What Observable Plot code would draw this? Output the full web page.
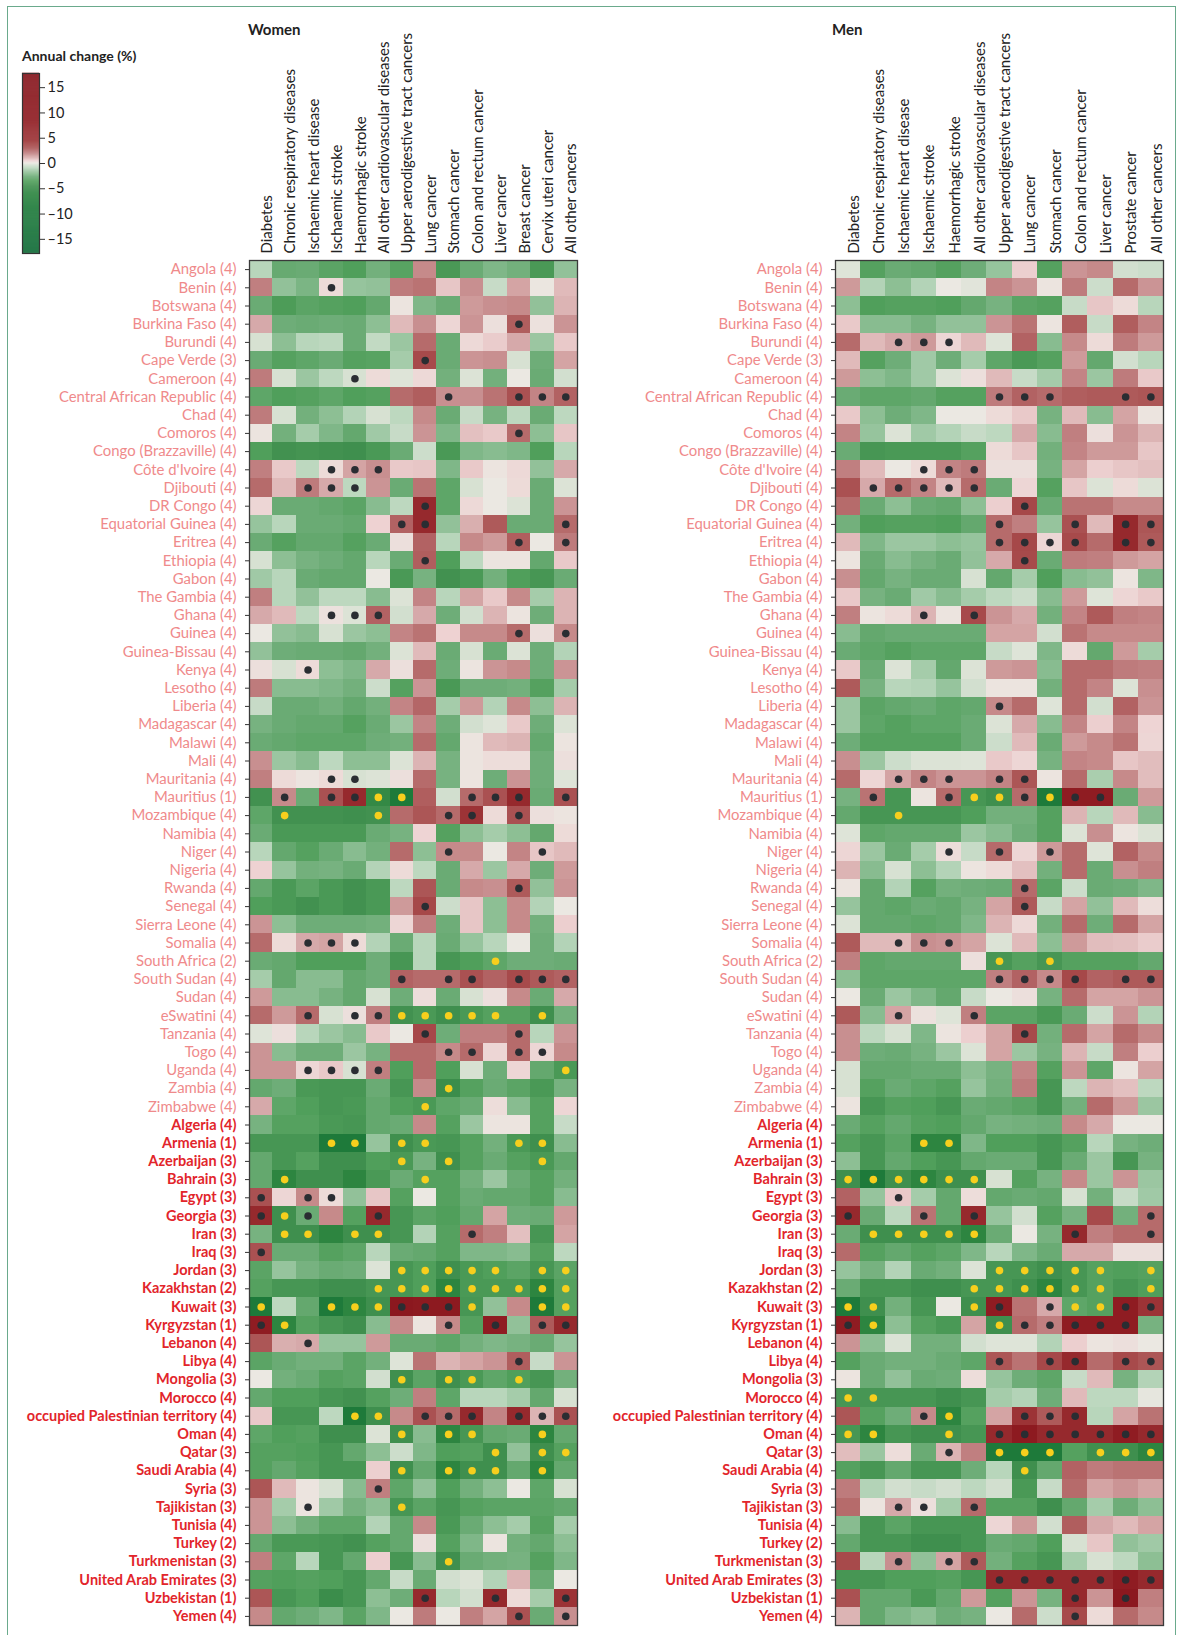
<!DOCTYPE html>
<html>
<head>
<meta charset="utf-8">
<script src="https://cdn.jsdelivr.net/npm/d3@7"></script>
<script src="https://cdn.jsdelivr.net/npm/@observablehq/plot@0.6"></script>
<style>
  html, body { margin: 0; padding: 0; background: #fff; }
  body { width: 1184px; height: 1635px; overflow: hidden; font-family: Lato, "Open Sans", sans-serif; }
  #wrap { position: relative; width: 1184px; height: 1635px; }
  #frame { position: absolute; left: 7px; top: 6px; width: 1169px; height: 1640px; border-left: 1.5px solid #6aaa8c; border-top: 1.5px solid #6aaa8c; border-right: 1.5px solid #6aaa8c; box-sizing: border-box; }
  .abs { position: absolute; }
  .ttl { font-weight: bold; font-size: 15px; line-height: 15px; color: #222; }
  .legttl { font-weight: bold; font-size: 14px; line-height: 14px; color: #222; }
</style>
</head>
<body>
<div id="wrap">
  <div id="frame"></div>
  <div class="abs legttl" style="left:22px; top:49px;">Annual change (%)</div>
  <div class="abs ttl" style="left:248px; top:22px;">Women</div>
  <div class="abs ttl" style="left:832px; top:22px;">Men</div>
  <div id="legend" class="abs" style="left:0; top:0;"></div>
  <div id="women" class="abs" style="left:0; top:0;"></div>
  <div id="men" class="abs" style="left:580px; top:0;"></div>
</div>
<script>
// ---------------- DATA ----------------
const ssaCountries = ["Angola (4)","Benin (4)","Botswana (4)","Burkina Faso (4)","Burundi (4)","Cape Verde (3)","Cameroon (4)","Central African Republic (4)","Chad (4)","Comoros (4)","Congo (Brazzaville) (4)","Côte d'Ivoire (4)","Djibouti (4)","DR Congo (4)","Equatorial Guinea (4)","Eritrea (4)","Ethiopia (4)","Gabon (4)","The Gambia (4)","Ghana (4)","Guinea (4)","Guinea-Bissau (4)","Kenya (4)","Lesotho (4)","Liberia (4)","Madagascar (4)","Malawi (4)","Mali (4)","Mauritania (4)","Mauritius (1)","Mozambique (4)","Namibia (4)","Niger (4)","Nigeria (4)","Rwanda (4)","Senegal (4)","Sierra Leone (4)","Somalia (4)","South Africa (2)","South Sudan (4)","Sudan (4)","eSwatini (4)","Tanzania (4)","Togo (4)","Uganda (4)","Zambia (4)","Zimbabwe (4)"];
const nameCountries = ["Algeria (4)","Armenia (1)","Azerbaijan (3)","Bahrain (3)","Egypt (3)","Georgia (3)","Iran (3)","Iraq (3)","Jordan (3)","Kazakhstan (2)","Kuwait (3)","Kyrgyzstan (1)","Lebanon (4)","Libya (4)","Mongolia (3)","Morocco (4)","occupied Palestinian territory (4)","Oman (4)","Qatar (3)","Saudi Arabia (4)","Syria (3)","Tajikistan (3)","Tunisia (4)","Turkey (2)","Turkmenistan (3)","United Arab Emirates (3)","Uzbekistan (1)","Yemen (4)"];
const countries = ssaCountries.concat(nameCountries);

const womenCauses = ["Diabetes","Chronic respiratory diseases","Ischaemic heart disease","Ischaemic stroke","Haemorrhagic stroke","All other cardiovascular diseases","Upper aerodigestive tract cancers","Lung cancer","Stomach cancer","Colon and rectum cancer","Liver cancer","Breast cancer","Cervix uteri cancer","All other cancers"];
const menCauses = ["Diabetes","Chronic respiratory diseases","Ischaemic heart disease","Ischaemic stroke","Haemorrhagic stroke","All other cardiovascular diseases","Upper aerodigestive tract cancers","Lung cancer","Stomach cancer","Colon and rectum cancer","Liver cancer","Prostate cancer","All other cancers"];

const legendTicks = [-15, -10, -5, 0, 5, 10, 15];

// annual change (%), one row per country, one value per cause
const womenValues = [
[-1,-2.8,-2.7,-3.2,-3.6,-2.5,-3.3,1.8,-4,-2.7,-2.2,-2.5,-4,-1.8],
[2,-1.8,-2.3,0.3,-1.7,-1.8,2.1,2.3,0.7,1.7,-0.7,1.3,0.05,0.9],
[-2.7,-3.8,-3.2,-3.4,-3.6,-2.9,0.1,-2.2,-2.7,1.5,1.7,1.8,-1.8,1.0],
[1.2,-2.6,-2.7,-2.6,-2.7,-1.9,0.9,1.7,0.4,1.6,0.2,2.8,0.15,1.6],
[-0.4,-1.9,-1,-0.9,-2.7,-0.8,-1.6,2.5,-2.7,0.35,0.6,1.2,-1.6,0.65],
[-2.7,-3.4,-3.1,-2.7,-3.4,-3.3,-1.4,3.5,-2.7,1.6,1.7,-0.4,-2.6,1.3],
[2.1,-0.4,-1.6,-0.9,-0.4,0.3,-0.25,0.35,-2.5,-0.3,-2.5,0,-2.7,-0.5],
[-3.1,-3.6,-3.4,-3.1,-3.6,-3.4,2.5,2.8,1.7,1.7,2.3,3.2,1.9,2.7],
[2.1,-0.4,-2.5,-1.9,-1.1,-0.4,-0.9,1.8,-2.7,-0.7,-2.4,-0.9,-2.7,-0.9],
[0.1,-2.5,-1.4,-2.2,-2.9,-1.5,-0.7,1.6,-2.2,0.8,0.65,2.5,-1.9,0.7],
[-3.6,-4.5,-4.3,-4.5,-4.7,-4,-2.7,-0.6,-4,-2.2,-2,-2.2,-3.6,-1],
[2,0.65,-0.9,0.3,1.3,1.7,0.65,0.7,-2.2,0.65,0.1,0.35,-1.8,1.2],
[2.5,0.9,2.1,1.2,-0.9,1.6,-2.7,2.3,-3.1,-0.4,0,0.3,-2.7,-0.3],
[0.4,-2.7,-2.7,-2.9,-3.2,-2,-0.9,6,-3.1,0.35,0,-0.3,-2.7,1.6],
[-1.7,-1,-2.7,-2.7,-2.9,0.5,2.7,6,-1.8,1.1,2.9,-2.7,-2.7,2.5],
[-2.7,-3.4,-2.9,-2.9,-3.4,-2.7,0.2,2.7,-1,1.8,1.5,2.8,0,2.1],
[-0.4,-1.9,-2.4,-2.6,-2.9,-1,-2.7,2.8,-3.6,-0.9,0.1,0.1,-2.9,0.65],
[-1.5,-1,-2.7,-2.9,-2.9,0,-4,-2.4,-4.5,-4,-2.5,-3.6,-4.2,-2.7],
[2,-1,-1.8,-0.9,-0.9,-2,-0.3,1.9,-1,1.3,0.65,1.8,-1.4,1],
[1.2,0.9,-0.9,0.15,-0.3,2.7,-0.5,1.2,-2.6,-0.5,1,0.1,-2.6,1],
[0,-1.8,-2,-0.4,-1.6,-1.9,1.9,2.3,0.5,1.8,1.8,2.5,0.2,1.8],
[-1.8,-2.6,-2.7,-2.7,-2.9,-2.5,-0.3,0.9,-2.7,-0.4,-2.7,-0.3,-2.6,-1.1],
[0.2,-0.4,0.3,-1.9,-2.2,1.2,0.2,2.5,-2.6,0.1,1.6,1.8,-2.6,1.6],
[2.1,-2,-2,-2.2,-2.5,-0.6,-3.4,1.6,-4,-2.6,-2.6,-2.5,-3.4,-1.4],
[-0.7,-2.7,-2.7,-2.5,-2.9,-2.5,1.9,2.6,-1.4,1.5,-1.1,1.8,-1.9,1],
[-2.4,-2.7,-2.9,-2.9,-3.4,-2.7,-1.6,1.9,-2.6,-0.5,-0.25,0.65,-2.6,-0.3],
[-2.7,-2.9,-3.1,-3.1,-3.1,-2.6,-2.5,2.5,-2.9,0.1,0.9,1,-2.9,0.1],
[1.7,-1.6,-2,-0.9,-1.9,-1.9,-0.3,1,-2.4,0.1,0.25,0.25,-2.6,0.2],
[2,0.3,0.1,0.3,-0.4,-0.3,0.2,2.5,-2.4,0.1,-2.6,1.6,-2.6,-0.25],
[-4.5,1.8,-2.7,3.2,6,-5.5,-9,2.8,-0.5,2.5,3.2,6,-2.7,3.2],
[-3.1,-4.5,-4.5,-4.5,-4.7,-4.5,2.5,3,2.5,4.5,0.3,3.2,0.2,0.1],
[-2.7,-4,-4,-4,-4,-2.7,-2.4,0.45,-3.4,-1.9,-1.4,-1.9,-2.9,0.3],
[-1,-2.9,-3.4,-2.7,-2,-2.5,2.5,-1.9,1.8,1.8,0,1.9,0.7,0.9],
[0.5,-1.7,-2.5,-2.4,-2.7,-1.1,0.3,-0.9,-2.7,1.2,-1.6,1.2,-2.6,1.5],
[-2.9,-4,-3.2,-4,-4.5,-4,-0.9,3,-2.7,1.8,1.7,2.9,-1.8,1.6],
[-3.6,-4,-4.5,-4,-4.5,-4,1.5,3.6,-0.6,0.7,-1.9,1.8,-1.1,0],
[1.6,-1.9,-2.6,-2.6,-2.6,-2.5,0.4,2,-2.6,0.7,-1.9,1.8,-2.5,0.55],
[2.5,0.3,1.2,1.3,0.3,-1.1,-2.7,-1,-2.7,-1.7,-1,0,-2.6,-1.1],
[-2.7,-2.9,-3.6,-3.6,-3.6,-2.6,-4.2,-1,-4.2,-3.6,-3.1,-2.6,-2.6,-2.7],
[-1.4,-2.9,-2,-2,-2.9,-2.6,2.7,2.5,2.5,3.2,2.7,3.5,2.9,2.7],
[1.5,-2,-2,-2.4,-2.9,-0.4,-2.6,0.25,-2.7,-0.4,0.2,1.8,-2.7,1.2],
[2.5,1.5,2.5,-0.4,0.2,2,-4.5,-4,-4.7,-4,-3.4,-3.4,-4.7,-2.5],
[-0.25,0.2,-1,-1.6,-2,0.65,0,3.6,-2.6,2,2,2.5,-1,1.6],
[1.6,-2,-2.6,-2.6,-1.6,-2.4,2.5,2.5,1.8,2.5,0.4,2.5,0.4,1.8],
[1.6,1.6,0.4,0.65,-0.4,2,-3.6,2.5,-3.6,-0.4,-2.6,0.4,-2.9,-4],
[-2.9,-2.6,-4,-4.2,-4.2,-2.7,-4.2,1.8,-5,-3.4,-2.7,-3.2,-4,-2.4],
[1.2,-3.1,-3.6,-4.2,-4,-2.9,-3.6,-4,-3.1,-2.7,0.25,-2,-3.4,0.4],
[-2.4,-3.4,-3.4,-4,-4.2,-2.9,-2.7,1.8,-3.4,-1.6,0.1,0.1,-3.4,-0.7],
[-4.2,-4.2,-4.2,-9,-9,-1.7,-4.7,-4,-4.2,-3.4,-2.5,-4,-4.7,-2],
[-2.9,-4.2,-3.4,-4.7,-4.7,-3.6,-4,-2.4,-4.7,-3.4,-2.7,-3.4,-4,-2.9],
[-2.9,-6,-4.7,-4.7,-6,-4,-2.7,-3.4,-3.4,-2.5,-1.6,-2.7,-3.4,-2.5],
[3.2,0.4,1.8,0.3,-1.8,0.7,-3.4,0,-3.4,-2.7,-2.9,-2.9,-3.4,-2],
[6,-4.7,-2.7,1.8,-3.4,6,-4.2,-3.2,-3.6,-2.9,1.3,-2.6,-2.7,1.5],
[-2.4,-4.7,-4.7,-6,-4.7,-4.7,-4.2,-1.1,-3.4,2.5,2,0.8,-4.2,1.3],
[3.2,-2.7,-2.7,-3.4,-3.1,-1,-2.7,-2.9,-3.4,-2.2,-2.2,-2,-3.4,-0.9],
[-3.2,-1.7,-2.4,-2.7,-2.6,-0.3,-4.2,-3.6,-4.7,-4,-3.6,-3.2,-4.2,-3.2],
[-3.4,-4.2,-4.2,-4.7,-4.7,-4.2,-4.2,-3.6,-6,-4,-4,-4,-6,-3.4],
[-9,-0.9,-2.9,-9,-6,-4.7,12,10,10,-4.2,-1.8,1.8,-9,-3.4],
[8,-6,-3.4,-4.2,-4.7,-2,1.8,0.1,1.8,-3.4,8,-1.8,2.9,6],
[3,1.1,1.2,-1.7,-1.7,1.5,-2.7,-2.7,-3.1,-2.5,-2.2,-2.4,-2.7,-1.7],
[-3.2,-2.7,-2.5,-2.5,-3.2,-2.5,-0.25,2.3,1,1.3,1.6,2.8,-0.7,1.6],
[0,-2.5,-2.7,-3.4,-3.2,-0.5,-4.7,-3.2,-4.7,-4,-3.1,-3.6,-4.2,-2.5],
[-2.9,-3.6,-3.6,-4.2,-4.5,-3.4,-2.6,2,-3.1,-1,-1,-1.4,-2.9,-0.4],
[0.65,-4.2,-4.2,-0.9,-9,-4.7,1.8,3.2,2.5,6,1.9,6,1,3.2],
[-3.1,-3.6,-3.4,-4.7,-4.7,-0.3,-4.7,-2,-6,-4.2,-2.9,-2.7,-6,-2.9],
[-3.4,-3.4,-3.6,-4.2,-2.9,-1.9,-0.6,-2.2,-3.6,-3.4,-4.7,-1.8,-4.7,-3.4],
[-3.4,-2.9,-3.4,-4.2,-4.2,0.55,-4.7,-2.9,-6,-4.7,-4.7,-2.9,-6,-2.9],
[3,0.9,0.1,-0.4,-2,2,-3.1,-1.8,-3.6,-2.5,-1.9,0,-3.1,-0.4],
[1.6,-1.4,0.1,-1.5,-2.4,-1.9,-4.2,-3.2,-4.2,-3.4,-3.2,-3.2,-3.2,-2.9],
[1.6,-1.9,-2.5,-3.1,-3.1,-1.1,-2.9,1.8,-4,-2.7,-1.9,-1.4,-3.4,-1.4],
[-2.9,-4,-4,-4.2,-4.5,-3.4,-2.9,0.2,-3.4,-2.2,0.1,-2.5,-2.9,-1.9],
[2,-3.1,-1,-4.2,-2.9,0.55,-4.2,-2,-4.7,-2.7,-2.5,-2.4,-3.4,-2.2],
[-3.4,-3.6,-3.4,-3.6,-4.2,-2.9,-0.7,-2.7,-0.5,-0.3,-1.1,1,-2.7,0],
[3,-4.2,-3.6,-5,-4.2,-1.9,-2.6,6,-1,-0.5,6,0.3,-1.4,4.5],
[1.8,-2.9,-2.6,-2.2,-3.2,-2.2,0,2.1,0,2,1.3,3.2,-2.7,1.7]
];

const menValues = [
[-0.25,-3.4,-2.7,-2.9,-3.4,-2.6,-1.7,0.55,-3.4,1.6,1.8,-0.5,-0.6],
[1.5,-1.1,-1.9,-1.1,0,-0.2,1.9,1.6,0.1,2.1,-0.6,2.5,1.6],
[-1.9,-3.6,-3.4,-3.4,-3.6,-2.9,-2.4,-3.2,-3.4,-0.7,0.7,0.3,-1],
[0.65,-2,-2,-2.4,-1.8,-1.8,1.6,2.3,0.1,2.8,-0.7,2.8,1.9],
[2.5,0.9,1.2,1.5,0.4,0.9,-0.25,2.7,-2,1.8,0.3,2.1,1.5],
[0.9,-3.4,-2.6,-1.5,-2.6,-1.4,-3.1,-4,-3.4,1.5,-2.9,-0.5,-1],
[1.5,-1.9,-2.2,-1.5,-0.3,0.2,0.9,-0.7,-1.4,1.9,-1.6,2.1,0.65],
[-2.7,-3.1,-3.1,-2.9,-3.4,-3.4,2.1,2.7,2.5,2.8,2.9,2.9,3],
[0.65,-1.9,-2.6,-2.2,0,0,0.3,0.65,-2.4,0.9,-2,1.3,0.1],
[1.9,-1.7,-0.3,-1.5,-1.1,-0.7,-0.9,1.2,-2,2,0.2,1.6,1],
[-2.7,-4.2,-4,-4,-4,-3.4,0.3,0.7,-2.5,1.9,1.5,1.5,0.7],
[2,0.9,0,0.3,1.9,2.1,0.2,0.2,-2.4,1.3,0.55,0.7,0.8],
[3.2,1.2,2.5,1.9,0.9,2.5,-2.7,0.4,-3.4,0.7,-0.3,0.3,-0.3],
[2.5,-2.7,-1.9,-2.7,-2.9,-1.9,0.55,3.6,-2.7,2.3,2.3,1.8,1.8],
[-2.5,-3.6,-3.4,-3.4,-3.6,-2.9,2.5,2,-1.7,3.2,0.9,6,3],
[0.9,-2.2,-1.6,-1.6,-1.9,-1.7,2.5,3.6,0.4,3.5,2.5,6,2.9],
[0.1,-2.7,-2,-2.4,-2.7,-1.8,1.2,3.5,-2.7,2.1,2,1.5,1.3],
[1.7,-2.9,-2.4,-2.7,-2.7,-0.4,-2.9,-1.4,-3.6,-2,-1.8,0.1,-2.2],
[0.65,-2.4,-2.7,-1.5,-2,-1.4,-0.9,-0.6,-2,1.5,-0.25,0.4,0.65],
[2,0.1,0.3,1,0.1,3.5,1.6,1.2,-2.5,1.9,2.9,2,1.9],
[-2,-2.9,-2.7,-2.7,-2.7,-2.7,1.3,1.3,-0.5,2.3,1.8,1.8,1.8],
[-2.7,-3.1,-3.4,-3.1,-3.1,-3.1,-0.7,-0.25,-2.2,0.3,-2.9,1.5,-1.4],
[0.65,-2.7,-0.3,-1.4,-2.9,-0.3,1.5,1.6,-2,2.5,2.5,2.1,2],
[2.9,-2.4,-1,-1.1,-1.7,-0.5,0.1,0.1,-2.5,2.5,1.9,-0.3,1.7],
[-1.6,-3.2,-2.9,-2.7,-3.1,-2.9,1.8,2.5,-0.25,2.5,-0.5,2.7,1.6],
[-1.6,-3.1,-3.4,-3.1,-3.1,-2.7,-0.3,1.2,-2,1.9,0.55,1.9,0.45],
[-2.6,-3.4,-3.4,-3.4,-3.4,-2.7,-0.6,0.9,-2.7,1.5,1.8,2.3,0.4],
[1.7,-1.6,-0.6,-0.3,-0.3,-0.25,0.65,0.4,-2.4,1.9,1.8,0.7,0.85],
[2.5,0.4,1.3,1.9,1.6,1.6,1.9,3,0.1,2.5,-1.3,1.8,0.85],
[-2.4,2.3,-4.2,0.1,2.5,-4.2,-4.7,2.5,-9,8,8,-2.7,1.5],
[-2.9,-4.2,-4.2,-4.2,-4.2,-3.6,-2.5,-2.5,-3.4,1,-1,0.9,-2],
[-0.25,-3.1,-2.9,-2.9,-2.9,-1.6,-2,-2.6,-3.4,-0.3,1.7,0.1,-0.3],
[0.4,-1.6,-2.7,-1.4,0.25,-0.7,2.5,0.4,1.5,2.5,-0.25,2.7,1.8],
[1,-2,-0.4,-1.9,-1.1,0.1,0.3,0.8,-2.5,2.5,-2.7,1.7,2],
[0.1,-2.9,-1.1,-3.4,-2.5,-2.6,-2.7,2.5,-3.2,-0.6,-2.7,-2.6,-2.2],
[-1.7,-2.9,-3.1,-2.7,-2.9,-2.4,1.3,2.9,-0.7,1.3,-1.8,0.9,0.25],
[-0.3,-2.9,-2.9,-3.1,-2.9,-2.2,1,0.35,-2.5,2.5,-2.6,2.5,1.3],
[2.9,0.9,0.9,1.7,1.6,1.3,-0.3,0.9,-1.9,1.5,0.85,0.8,0.6],
[2,-3.1,-2.9,-2.9,-2.9,0.2,-4.2,-3.4,-4.2,-3.4,-3.4,-3.4,-2.9],
[-1.9,-3.1,-3.1,-3.1,-3.1,-3.1,2,2.7,1.8,3.6,2.7,2.9,2.9],
[0,-2.7,-1.6,-2.2,-2.9,-0.7,0,0.2,-2.4,2.5,1.3,1.3,1.6],
[2.9,-2,1.3,0.15,-0.25,2,-3.2,-3.2,-4,-2.7,-0.6,1.6,-1.1],
[1.7,-0.9,-0.4,-2.2,0.1,0.55,1.3,3.5,-2.5,2.5,1.3,2.5,1.8],
[1.7,-2.6,-2.7,-2.4,-1.6,-0.3,1.3,-1.6,-2.4,1,-0.7,2,0.55],
[-0.4,-2.9,-2.9,-2.7,-2.7,-1.9,-2.4,1.9,-3.4,1.6,-3.1,0.1,1.3],
[-0.4,-3.4,-2.7,-3.1,-3.4,-1.7,-2.5,2.1,-4.2,-0.9,1,0.8,-0.9],
[0.1,-4.2,-3.4,-3.6,-4.2,-2.7,-2.9,-3.2,-4.2,-2.5,2.5,1.5,-1.6],
[-2.7,-3.4,-2.9,-3.4,-3.6,-2.9,-2.4,-2.5,-2.6,1.8,1.2,0,0],
[-3.4,-4.2,-3.2,-6,-6,-2.2,-3.6,-3.6,-4.2,-3.4,-1,-2.4,-2.6],
[-1.9,-4.2,-2.9,-3.6,-4.2,-2.9,-2.7,-2.7,-4.2,-2.7,-1.6,-4.2,-2.4],
[-4.7,-9,-4.7,-6,-4.7,-4.7,-0.4,-3.4,-2.4,1.8,-1.6,1.6,-1.6],
[2.7,-1.7,0.65,-1.4,-2.9,0.25,-2.9,-2.7,-2.9,-0.4,-2.5,-0.7,-1.5],
[6,-2.7,-0.9,2.3,-2.9,6,-1.7,-0.5,-3.4,-2.4,3.5,-2.5,2.5],
[-2.7,-4.7,-4.7,-4.7,-4.7,-6,-2.7,0,-2.4,6,2,2.5,2.5],
[2.5,-3.4,-2.9,-3.4,-3.1,-2.2,-1,-2.2,-2.7,1.2,1.2,0.2,0.2],
[-1.7,-2.4,-1.1,-2.7,-2.5,-0.3,-4.2,-4.2,-4.7,-4.2,-3.4,-3.6,-3.4],
[-2.7,-4.2,-4.2,-4.7,-4.7,-4.2,-4.2,-4.7,-6,-4.2,-3.4,-4.2,-3.6],
[-9,-4.7,-2.5,-4.2,0,-4.7,8,2.3,1.2,-3.1,-3.4,8,4.5],
[8,-6,-1.9,-3.4,-4,1.3,-4.7,2.5,2,8,8,8,-2.4],
[1.6,-1.9,-0.3,-2.5,-2.5,-0.5,-0.25,-0.25,-1.1,0.55,0.1,0.2,0],
[-3.4,-2.7,-2.5,-2.5,-2.7,-3.1,3,2.3,3.6,6,2.5,3.5,3],
[0.1,-2.7,-1.8,-2.7,-2.6,0.25,-1.7,-2.6,-3.1,-0.7,0.9,-2.4,-1.1],
[-4.2,-4.2,-4.2,-4.2,-4.7,-4.2,-1.4,-1.1,-2.6,0.9,-0.9,-0.9,-0.1],
[3,-3.4,-2.6,1.8,-6,-3.4,1.3,4.5,2.9,6,-1,1.3,2.3],
[-4.2,-6,-4.2,-4.7,-4.7,-4.2,6,10,6,6,6,8,6],
[0.85,-1.6,0.25,-2.7,1,2,-9,-9,-9,-3.4,-4.7,-4.7,-6],
[-3.4,-4.2,-2.9,-4.2,-4.2,-2.6,-1,-4.7,-2.9,2.7,2.1,2.3,2.3],
[2.1,-1.1,-0.5,-0.7,-0.5,-0.9,-0.5,-4,-0.7,2.5,1.3,1.6,1.3],
[2.5,0.1,1.2,0.2,-1.4,2.5,-3.4,-3.4,-4.7,-2.9,-1.4,-2.6,-1.9],
[-2,-4.2,-3.2,-4.2,-4.2,-4.2,0.4,1.5,-0.5,2.8,1.2,0.9,1.3],
[-2.9,-4.2,-4.2,-4.7,-4.7,-4.2,-2.7,-2.9,-3.6,-0.4,0.7,-1.8,-1.5],
[3.5,-1,1.7,-1.8,1.3,2.9,-2.5,-3.4,-4.2,-1.4,-0.4,-0.9,-1.9],
[-4.2,-4.2,-3.6,-3.6,-3.4,-4.2,6,6,6,6,6,8,6],
[3.2,-2.9,-2.9,-4,-2.9,1.5,-3.4,1.6,-2.4,6,1.6,12,2],
[1,-2.9,-2.2,-1.9,-2.6,-2.4,0,2.5,-0.6,3.5,0.3,2.5,1.8]
];

// significance markers: b = black dot, y = yellow dot, . = none
const womenMarks = [
"..............","...b..........","..............","...........b..","..............",
".......b......","....b.........","........b..bbb","..............","...........b..",
"..............","...bbb........","..bbb.........",".......b......","......bb.....b",
"...........b.b",".......b......","..............","..............","...bbb........",
"...........b.b","..............","..b...........","..............","..............",
"..............","..............","..............","...bb.........",".b.bbyy..bbb.b",
".y...y..bb.b..","..............","........b...b.","..............","...........b..",
".......b......","..............","..bbb.........","..........y...","......b.bb.bbb",
"..............","..b.bbyyyyy.y.",".......b...b..","........bb.bb.","..bbbb.......y",
"........y.....",".......y......","..............","...yy.yy...yy.","......y.y...y.",
".y.....y......","b.bb..........","byb..b........",".yy.yy...b....","b.............",
"......yyyyy.yy",".....yyyyyyyyy","y..yyybbby..yy","by......b.b.bb","..b...........",
"...........b..","......y.yy.y..","..............","....yy.bbb.bbb","......y.yy..y.",
"..........y.yy","......y.yyy.y.",".....b........","..b...y.......","..............",
"..............","........y.....","..............",".......b..b..b","...........b.b"
];
const menMarks = [
".............",".............",".............",".............","..bbb........",
".............",".............","......bbb..bb",".............",".............",
".............","...bbb.......",".bbbbb.......",".......b.....","......b..b.bb",
"......bbbb.bb",".......b.....",".............",".............","...b.b.......",
".............",".............",".............",".............","......b......",
".............",".............",".............","..bbb.bb.....",".b..byybybb..",
"..y..........",".............","....b.b.b....",".............",".......b.....",
".......b.....",".............","..bbb........","......y.y....","......bbbb.bb",
".............","..b..b.......",".......b.....",".............",".............",
".............",".............",".............","...yy........",".............",
"yyyyyy.......","..b..........","b..b.b......b",".yyyyy...b..b",".............",
"......yyyyy.y",".....yyyyyy.y","yy...yb.byybb","by....ybbbbb.",".............",
"......b.bb.bb",".............","yy...........","...by..bbb...","yy..y.bbbbbbb",
"....b.yyy.yyy",".......y.....",".............","..bb.b.......",".............",
".............","..b.bb.......","......bbbbbbb",".........b.b.",".........b..."
];

// ---------------- STYLE ----------------
const colorDomain = [-18, -9, -6, -4.5, -3.5, -2.7, -2, -1, 0, 0.5, 1, 2, 3, 4.5, 8, 18];
const colorRange = ["#0f6a37","#1e7a3a","#2d8540","#429150","#52a05c","#6aab74","#88bc90","#b8d6bb","#ebe8e2","#eed2d2","#dcb4b4","#c07f80","#ac5656","#9c3336","#8f1c22","#84131a"];
const colorScale = {type: "linear", domain: colorDomain, range: colorRange, interpolate: "rgb"};
const ssaColor = "#ef8a8b";
const nameColor = "#e2252b";
const FONT = "Lato, 'Open Sans', sans-serif";

function tidy(values, marks, causes) {
  return countries.flatMap((c, i) => causes.map((k, j) => ({
    country: c, cause: k, value: values[i][j], mark: marks[i][j]
  })));
}

function panel(values, marks, causes, marginLeft, width) {
  const data = tidy(values, marks, causes);
  return Plot.plot({
    width, height: 1630,
    marginLeft, marginRight: width - marginLeft - 328, marginTop: 260, marginBottom: 5,
    x: {domain: causes, padding: 0, round: false, axis: null},
    y: {domain: countries, padding: 0, round: false, axis: null},
    color: colorScale,
    style: {fontFamily: FONT, background: "transparent", overflow: "visible"},
    marks: [
      Plot.cell(data, {x: "cause", y: "country", fill: "value", shapeRendering: "crispEdges"}),
      Plot.dot(data.filter(d => d.mark === "b"), {x: "cause", y: "country", r: 3.8, fill: "#2a2d32"}),
      Plot.dot(data.filter(d => d.mark === "y"), {x: "cause", y: "country", r: 3.8, fill: "#f7cf1d"}),
      Plot.frame({stroke: "#3a3a3a", strokeWidth: 1.3}),
      Plot.axisY(ssaCountries, {anchor: "left", label: null, tickSize: 4, tickPadding: 9, stroke: "#333", fill: ssaColor, fontSize: 14.9, fontFamily: FONT}),
      Plot.axisY(nameCountries, {anchor: "left", label: null, tickSize: 4, tickPadding: 9, stroke: "#333", fill: nameColor, fontSize: 14.5, fontWeight: "bold", fontFamily: FONT}),
      Plot.text(causes, {x: d => d, text: d => d, frameAnchor: "top", rotate: -90, textAnchor: "start", dy: -7, fill: "#222", fontSize: 15, fontFamily: FONT})
    ]
  });
}

document.getElementById("women").appendChild(panel(womenValues, womenMarks, womenCauses, 249, 579));
document.getElementById("men").appendChild(panel(menValues, menMarks, menCauses, 255, 588));

// ---------------- LEGEND ----------------
const step = 0.1;
const ramp = d3.range(-17.8, 17.8, step);
const legend = Plot.plot({
  width: 120, height: 260,
  marginLeft: 22, marginRight: 81, marginTop: 73, marginBottom: 7,
  x: {domain: [0, 1], axis: null},
  y: {domain: [-17.8, 17.8], axis: null},
  color: colorScale,
  style: {fontFamily: FONT, background: "transparent"},
  marks: [
    Plot.rect(ramp, {x1: 0, x2: 1, y1: d => d, y2: d => d + step * 1.5, fill: d => d + step / 2}),
    Plot.frame({stroke: "#333", strokeWidth: 1.2}),
    Plot.axisY(legendTicks, {anchor: "right", label: null, tickSize: 5, tickPadding: 3, stroke: "#333", fill: "#222", fontSize: 14.5, fontFamily: FONT,
      tickFormat: d => d < 0 ? "\u2013" + Math.abs(d) : String(d)})
  ]
});
document.getElementById("legend").appendChild(legend);
</script>
</body>
</html>
